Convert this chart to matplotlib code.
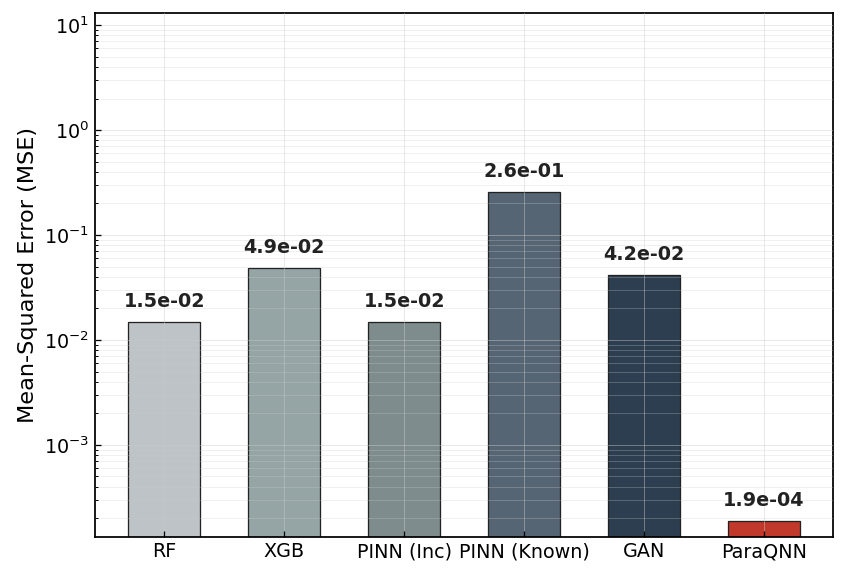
import matplotlib
matplotlib.use("Agg")
import matplotlib.pyplot as plt

models = ["RF", "XGB", "PINN (Inc)", "PINN (Known)", "GAN", "ParaQNN"]
mse = [1.5e-02, 4.9e-02, 1.5e-02, 2.6e-01, 4.2e-02, 1.9e-04]
colors = ["#bdc3c7", "#95a5a6", "#7f8c8d", "#566573", "#2c3e50", "#c0392b"]

# rendered at 115 dpi so fonts come out a bit larger, like the original
fig, ax = plt.subplots(figsize=(847 / 115, 576 / 115), dpi=115)
bars = ax.bar(models, mse, width=0.6, color=colors, edgecolor="#222222", linewidth=0.8)
ax.set_yscale("log")
ax.set_ylim(min(mse) * 0.7, max(mse) * 50)
ax.set_ylabel("Mean-Squared Error (MSE)", fontsize=14)

ax.grid(True, which="major", color="#cccccc", linewidth=0.6, alpha=0.45)
ax.grid(True, which="minor", color="#cccccc", linewidth=0.5, alpha=0.35)
ax.set_axisbelow(False)
ax.tick_params(which="both", direction="in", labelsize=12)
for s in ax.spines.values():
    s.set_linewidth(1.1)

for bar, v in zip(bars, mse):
    ax.text(bar.get_x() + bar.get_width() / 2, v * 1.25, f"{v:.1e}",
            ha="center", va="bottom", fontsize=12, fontweight="bold", color="#222222")

fig.subplots_adjust(left=0.112, right=0.984, top=0.977, bottom=0.068)
fig.savefig("out.png", dpi=115)
